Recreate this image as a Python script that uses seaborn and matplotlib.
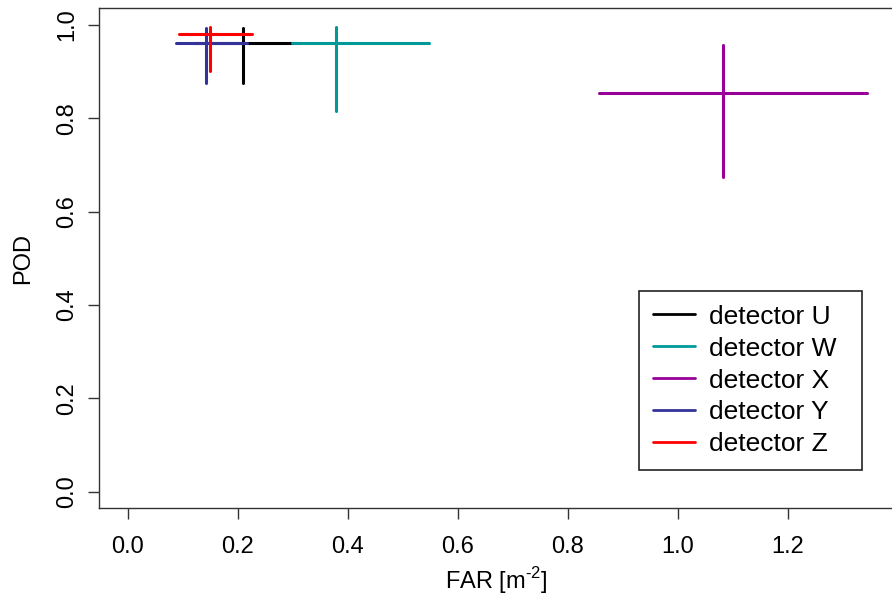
import numpy as np
import pandas as pd
import seaborn as sns
import matplotlib
matplotlib.use("Agg")
import matplotlib.pyplot as plt

# valeurs
detectors = ["detector U", "detector W", "detector X", "detector Y", "detector Z"]
colors = ["#000000", "#009999", "#990099", "#333399", "#ff0000"]
far_center = [0.210, 0.379, 1.081, 0.142, 0.149]
far_low = [0.120, 0.298, 0.856, 0.088, 0.093]
far_high = [0.298, 0.547, 1.344, 0.216, 0.226]
pod_center = [0.962, 0.962, 0.855, 0.962, 0.980]
pod_low = [0.875, 0.816, 0.673, 0.875, 0.902]
pod_high = [0.993, 0.996, 0.957, 0.993, 0.996]

# table longue : deux segments (horizontal + vertical) par detecteur
rows = []
for i, d in enumerate(detectors):
    rows.append({"det": d, "seg": d + "_h", "x": far_low[i], "y": pod_center[i]})
    rows.append({"det": d, "seg": d + "_h", "x": far_high[i], "y": pod_center[i]})
    rows.append({"det": d, "seg": d + "_v", "x": far_center[i], "y": pod_low[i]})
    rows.append({"det": d, "seg": d + "_v", "x": far_center[i], "y": pod_high[i]})
df = pd.DataFrame(rows)

sns.set_style("ticks")
plt.rcParams['font.family'] = ['Liberation Sans', 'DejaVu Sans']
plt.rcParams['mathtext.fontset'] = 'custom'
plt.rcParams['mathtext.rm'] = 'Liberation Sans'
plt.rcParams['font.size'] = 17
plt.rcParams['text.color'] = 'black'
plt.rcParams['axes.labelcolor'] = 'black'

fs = 17
fig = plt.figure(figsize=(8.92, 6.02), dpi=100)
ax = fig.add_axes([99 / 892, 94 / 602, 794 / 892, 500 / 602])

sns.lineplot(data=df, x="x", y="y", hue="det", units="seg", estimator=None,
             sort=False, palette=dict(zip(detectors, colors)),
             hue_order=detectors, linewidth=2.2, ax=ax)

ax.set_xlim(-0.0527, 1.391)
ax.set_ylim(-0.035, 1.036)
ax.set_xticks(np.arange(0, 1.3, 0.2))
ax.set_yticks(np.arange(0, 1.1, 0.2))
ax.set_xticklabels(["%.1f" % v for v in np.arange(0, 1.3, 0.2)])
ax.set_yticklabels(["%.1f" % v for v in np.arange(0, 1.1, 0.2)],
                   rotation=90, va="center")
ax.tick_params(length=7.9, width=1, color="#333333", labelsize=fs,
               labelcolor="black")
ax.tick_params(axis="x", pad=12.5)
ax.tick_params(axis="y", pad=7)
for s in ax.spines.values():
    s.set_color("#333333")
    s.set_linewidth(1)

ax.set_xlabel(r"FAR [m$^{\mathrm{\text{-}2}}$]", fontsize=fs, labelpad=5)
ax.set_ylabel("POD", fontsize=fs, labelpad=16)

handles, labels = ax.get_legend_handles_labels()
leg = ax.legend(handles, labels, loc="upper left", mode="expand",
                bbox_to_anchor=(639 / 892, 1 - 471 / 602, 223 / 892, 180 / 602),
                bbox_transform=fig.transFigure, frameon=True, fancybox=False,
                edgecolor="#222222", framealpha=1, fontsize=19,
                handlelength=1.6, handletextpad=0.53, borderpad=0.52,
                labelspacing=0.3, borderaxespad=0)
leg.get_frame().set_linewidth(1.2)
for l in leg.get_lines():
    l.set_linewidth(2.0)
for t in leg.get_texts():
    t.set_color("black")

fig.savefig("out.png", dpi=100)
